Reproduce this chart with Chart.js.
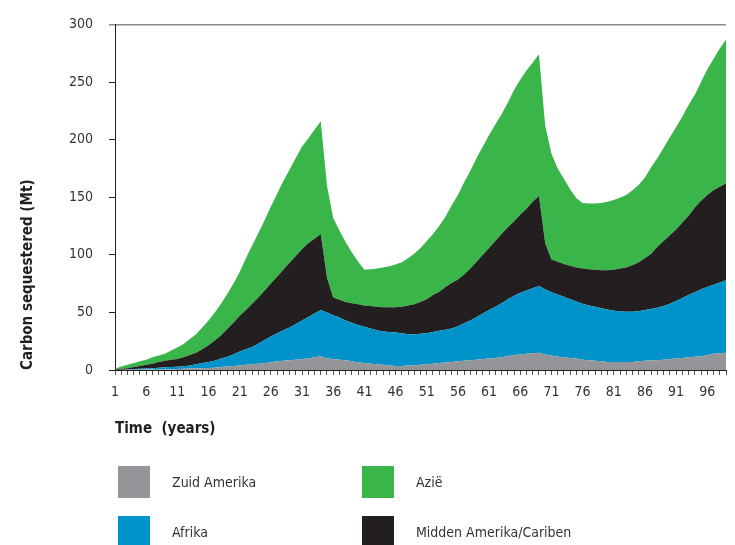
<!DOCTYPE html>
<html>
<head>
<meta charset="utf-8">
<script src="https://cdn.jsdelivr.net/npm/chart.js@4/dist/chart.umd.min.js"></script>
<style>
  html, body { margin: 0; padding: 0; background: #fff; }
  #wrap { width: 735px; height: 545px; position: relative; }
</style>
</head>
<body>
<div id="wrap"><canvas id="chart"></canvas></div>
<script>
// years 1..99 (the picture is cut off just before year 100)
const years = Array.from({ length: 99 }, (_, i) => String(i + 1));

// Mt carbon per region
const zuidAmerika = [
  0, 0.2, 0.2, 0.3, 0.3, 0.4, 0.4, 0.5, 0.5, 0.6,
  0.8, 1, 1.2, 1.4, 1.6, 1.8, 2, 2.5, 3, 3.5,
  4, 4.5, 5, 5.5, 6, 6.5, 7.5, 8, 8.5, 9,
  9.5, 10, 11, 12, 10, 9.5, 9, 8.5, 7.5, 6.5,
  6, 5.5, 5, 4.5, 4, 3.5, 3.5, 4, 4, 4.5,
  5, 5.5, 6, 6.5, 7, 7.5, 8, 8.5, 9, 9.5,
  10, 10.5, 11, 12, 13, 13.5, 14, 14.5, 15, 13.5,
  12.5, 11.5, 11, 10.5, 10, 9, 8.5, 8, 7.5, 7,
  7, 7, 7, 7, 7.5, 8, 8.5, 8.5, 9, 9.5,
  10, 10.5, 11, 11.5, 12, 13, 14, 14.5, 15
];
const afrika = [
  0, 0.1, 0.3, 0.5, 0.7, 0.9, 1.2, 1.5, 1.8, 2,
  2, 2.2, 2.8, 3.6, 4.4, 5.2, 6, 7.5, 8.5, 10,
  12, 13.5, 15, 17.5, 20, 22.5, 24.5, 26.5, 28.5, 31,
  33.5, 36, 38, 40, 40, 38, 36.5, 34.5, 33.5, 32.5,
  31.5, 30.5, 29.5, 29, 29, 29, 28.5, 27, 27, 27,
  27, 27.5, 28, 28.5, 29, 30.5, 32.5, 34.5, 37, 39.5,
  42, 44.5, 47, 49.5, 51.5, 53.5, 55, 56.5, 58, 56.5,
  55, 54, 52.5, 51, 49.5, 48.5, 47.5, 47, 46, 45.5,
  44.5, 44, 43.5, 43.5, 43.5, 44, 44.5, 45.5, 46.5, 48,
  50, 52, 54, 56, 58, 59, 60, 61.5, 63
];
const middenAmerika = [
  0.5, 0.7, 1, 1.7, 2.5, 3.2, 3.9, 5, 5.7, 6.4,
  6.7, 7.8, 9, 10, 12, 14.5, 17.5, 20, 24, 27.5,
  31, 34, 37.5, 40, 43, 46, 49, 52.5, 56, 59,
  62, 64, 65, 66, 30, 15.5, 15.5, 16, 17, 18,
  18.5, 19.5, 20.5, 21, 21.5, 22, 23, 25, 26, 27.5,
  29.5, 32, 34, 37, 39.5, 40.5, 42.5, 45, 48, 51,
  54, 57, 60, 62.5, 64.5, 68, 71, 75, 78, 40,
  28.5, 28.5, 28.5, 29, 29.5, 30.5, 31.5, 32, 33, 34,
  35.5, 37, 38.5, 40.5, 42.5, 45, 48, 53, 56.5, 59.5,
  62, 65.5, 69, 73.5, 77, 80, 82, 83, 84
];
const azie = [
  0.5, 2, 3, 3.5, 4, 4.5, 5.5, 5.5, 6, 8,
  10, 11.5, 14, 16, 19, 21.5, 24.5, 27.5, 30.5, 34,
  38, 45, 50.5, 56, 61, 67, 72, 77, 81, 85,
  89, 91, 94.5, 98, 80, 69, 60, 52, 44, 37,
  31, 32, 33, 34.5, 35.5, 37, 38.5, 41, 44, 47,
  50.5, 53, 57, 61, 67.5, 73.5, 80, 85, 90, 94,
  98, 101, 104, 108, 114, 117, 120, 121, 123, 102,
  92, 81, 74, 66.5, 60, 57, 57, 57.5, 58.5, 59.5,
  60.5, 61.5, 63, 65, 67, 70, 75, 77, 81, 85,
  89, 92, 96, 98, 103, 109, 114, 120, 125
];

const yTicks = [0, 50, 100, 150, 200, 250, 300];

const FONT = '"DejaVu Sans Condensed", "Liberation Sans Narrow", "DejaVu Sans", sans-serif';
const TEXT = '#333333';

// 2x2 legend below the chart: [column, row] per dataset
const legendSlots = [[0, 0], [0, 1], [1, 1], [1, 0]];

const gridLegend = {
  id: 'gridLegend',
  afterDraw(chart) {
    const ctx = chart.ctx;
    ctx.save();
    ctx.font = '14px ' + FONT;
    ctx.textBaseline = 'middle';
    ctx.textAlign = 'left';
    chart.data.datasets.forEach((ds, i) => {
      const [col, row] = legendSlots[i];
      const x = 118 + col * 244;
      const y = 466 + row * 50;
      ctx.fillStyle = ds.backgroundColor;
      ctx.fillRect(x, y, 32, 32);
      ctx.fillStyle = TEXT;
      ctx.fillText(ds.label, x + 54, y + 17);
    });
    ctx.restore();
  }
};

new Chart(document.getElementById('chart'), {
  type: 'line',
  data: {
    labels: years,
    datasets: [
      { label: 'Zuid Amerika', data: zuidAmerika, backgroundColor: '#939598', fill: 'origin' },
      { label: 'Afrika', data: afrika, backgroundColor: '#0093C9', fill: '-1' },
      { label: 'Midden Amerika/Cariben', data: middenAmerika, backgroundColor: '#231F20', fill: '-1' },
      { label: 'Azië', data: azie, backgroundColor: '#39B54A', fill: '-1' }
    ]
  },
  options: {
    responsive: true,
    maintainAspectRatio: false,
    animation: false,
    elements: {
      point: { radius: 0 },
      line: { borderWidth: 0, tension: 0 }
    },
    layout: { padding: { top: 21, right: 0, bottom: 100, left: 0 } },
    plugins: {
      legend: { display: false },
      tooltip: { enabled: false }
    },
    scales: {
      x: {
        stacked: true,
        offset: false,
        border: { color: '#231F20', width: 1 },
        grid: { drawOnChartArea: false, tickLength: 5, tickColor: '#555555' },
        ticks: {
          autoSkip: false,
          maxRotation: 0,
          padding: 9,
          color: TEXT,
          font: { family: FONT, size: 14 },
          callback: (v, i) => (i % 5 === 0 ? years[i] : '')
        },
        title: {
          display: true,
          text: 'Time  (years)',
          align: 'start',
          color: '#231F20',
          font: { family: FONT, size: 15, weight: 'bold' },
          padding: { top: 0, bottom: 7 }
        },
        afterFit: (s) => { s.height = 75; }
      },
      y: {
        stacked: true,
        min: 0,
        max: 300,
        border: { color: '#231F20', width: 1 },
        grid: {
          tickLength: 6,
          lineWidth: (c) => (c.tick && c.tick.value === 300 ? 1.5 : 1),
          color: (c) => (c.tick && c.tick.value === 300 ? '#8c8c8c' : 'rgba(0,0,0,0)'),
          tickColor: (c) => (c.tick && c.tick.value === 300 ? '#8c8c8c' : '#231F20')
        },
        afterBuildTicks: (s) => { s.ticks = yTicks.map(v => ({ value: v })); },
        ticks: {
          padding: 16,
          color: TEXT,
          font: { family: FONT, size: 14 }
        },
        title: {
          display: true,
          text: 'Carbon sequestered (Mt)',
          align: 'start',
          color: '#231F20',
          font: { family: FONT, size: 15, weight: 'bold' },
          padding: { top: 19, bottom: 0 }
        },
        afterFit: (s) => { s.width = 115; }
      }
    }
  },
  plugins: [gridLegend]
});
</script>
</body>
</html>
